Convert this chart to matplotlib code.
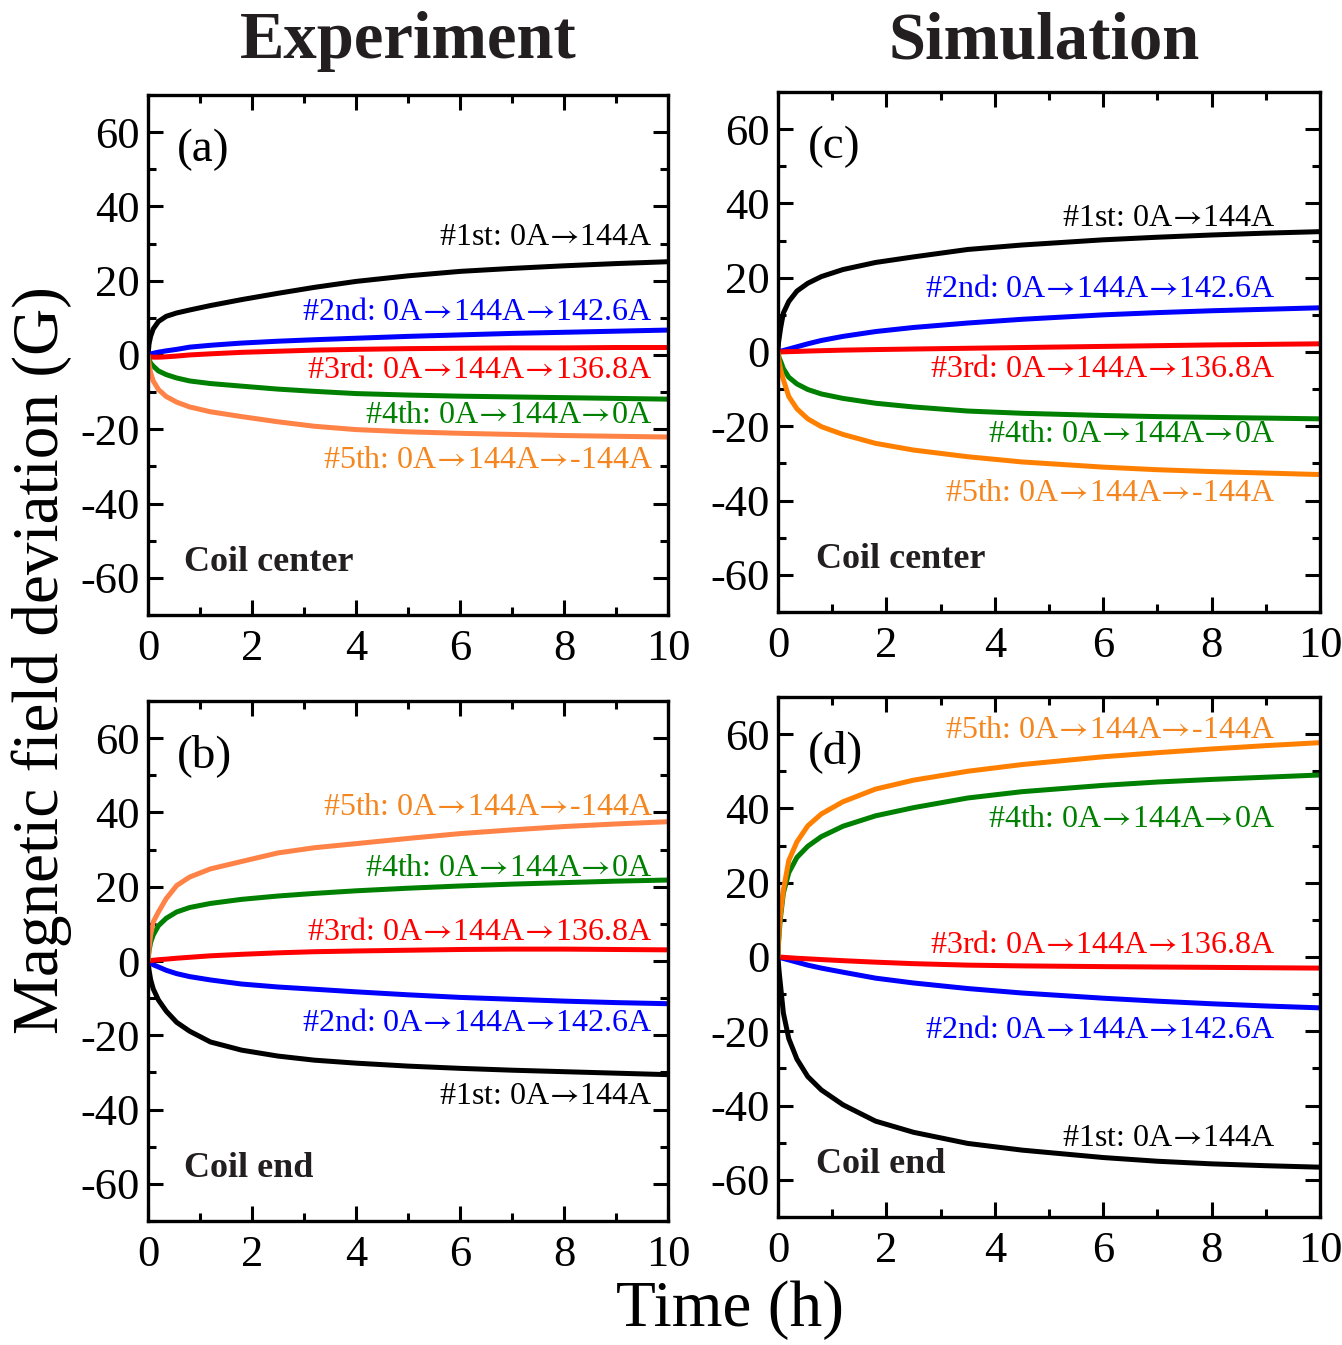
"""Field deviation after current ramps: experiment vs simulation, coil center and end."""

from __future__ import annotations

import matplotlib

matplotlib.use("Agg")
import matplotlib.pyplot as plt
from matplotlib.ticker import MultipleLocator

# ---- data (time in h, deviation in G) ----
ARROW = r"$\!\rightarrow\!$"
RUN_LABELS = [
    f"#1st: 0A{ARROW}144A",
    f"#2nd: 0A{ARROW}144A{ARROW}142.6A",
    f"#3rd: 0A{ARROW}144A{ARROW}136.8A",
    f"#4th: 0A{ARROW}144A{ARROW}0A",
    f"#5th: 0A{ARROW}144A{ARROW}-144A",
]

# experiment time samples (h)
t_exp = [0, 0.02, 0.05, 0.1, 0.2, 0.35, 0.55, 0.8, 1.2, 1.8, 2.5, 3.2, 4, 5, 6, 7, 8, 9, 10]

# (a) experiment, coil center
exp_center_1st = [0, 3.0, 5.0, 7.0, 9.0, 10.4, 11.3, 12.1, 13.3, 14.9, 16.6, 18.2, 19.8, 21.3, 22.5, 23.3, 24.0, 24.6, 25.1]
exp_center_2nd = [0, 0.1, 0.25, 0.45, 0.75, 1.1, 1.5, 2.1, 2.6, 3.2, 3.7, 4.1, 4.5, 5.0, 5.4, 5.8, 6.1, 6.4, 6.7]
exp_center_3rd = [0, -0.3, -0.5, -0.6, -0.6, -0.5, -0.3, 0.0, 0.3, 0.7, 1.0, 1.3, 1.5, 1.7, 1.8, 1.9, 1.9, 2.0, 2.0]
exp_center_4th = [0, -1.2, -2.2, -3.0, -4.3, -5.3, -6.2, -7.0, -7.7, -8.4, -9.2, -9.8, -10.4, -10.8, -11.1, -11.3, -11.5, -11.7, -11.9]
exp_center_5th = [0, -2.5, -4.8, -7.0, -9.3, -11.2, -12.7, -14.0, -15.3, -16.6, -18.0, -19.2, -20.1, -20.7, -21.1, -21.4, -21.7, -21.9, -22.1]

# (b) experiment, coil end
exp_end_1st = [0, -2.5, -5.0, -7.5, -10.5, -13.5, -16.5, -18.9, -21.8, -24.0, -25.6, -26.7, -27.5, -28.3, -28.9, -29.4, -29.8, -30.2, -30.6]
exp_end_2nd = [0, -0.2, -0.5, -1.0, -1.6, -2.5, -3.4, -4.2, -5.1, -6.2, -7.0, -7.6, -8.3, -9.1, -9.8, -10.3, -10.8, -11.2, -11.5]
exp_end_3rd = [0, 0.05, 0.1, 0.2, 0.35, 0.5, 0.75, 1.0, 1.4, 1.8, 2.2, 2.5, 2.7, 2.9, 3.1, 3.2, 3.2, 3.1, 3.0]
exp_end_4th = [0, 2.8, 5.0, 7.0, 9.5, 11.5, 13.2, 14.4, 15.5, 16.6, 17.5, 18.2, 18.9, 19.6, 20.2, 20.7, 21.1, 21.5, 21.8]
exp_end_5th = [0, 3.5, 7.0, 10.5, 13.2, 16.8, 20.3, 22.6, 24.8, 26.8, 29.1, 30.5, 31.6, 33.0, 34.3, 35.3, 36.2, 36.9, 37.5]

# simulation time samples (h)
t_sim = [0, 0.01, 0.025, 0.05, 0.1, 0.2, 0.35, 0.55, 0.8, 1.2, 1.8, 2.5, 3.5, 4.5, 6, 7, 8, 9, 10]

# (c) simulation, coil center
sim_center_1st = [0, 2.5, 4.0, 6.5, 10.5, 13.6, 16.4, 18.5, 20.3, 22.2, 24.1, 25.6, 27.6, 28.8, 30.2, 30.9, 31.5, 32.0, 32.4]
sim_center_2nd = [0, 0.05, 0.1, 0.2, 0.4, 0.8, 1.4, 2.2, 3.1, 4.2, 5.5, 6.6, 7.8, 8.8, 10.0, 10.6, 11.1, 11.5, 11.9]
sim_center_3rd = [0, 0.0, 0.0, 0.02, 0.05, 0.1, 0.15, 0.25, 0.35, 0.5, 0.65, 0.8, 1.0, 1.2, 1.5, 1.7, 1.9, 2.05, 2.2]
sim_center_4th = [0, -0.8, -1.7, -2.5, -4.5, -6.8, -8.6, -10.1, -11.3, -12.5, -13.8, -14.8, -15.9, -16.5, -17.1, -17.4, -17.6, -17.8, -18.0]
sim_center_5th = [0, -1.5, -3.0, -4.8, -7.5, -12.0, -15.3, -18.0, -20.1, -22.2, -24.6, -26.4, -28.2, -29.6, -31.0, -31.7, -32.2, -32.6, -33.0]

# (d) simulation, coil end
sim_end_1st = [0, -2.0, -4.5, -8.0, -15.1, -22.0, -27.5, -32.2, -35.8, -39.8, -44.2, -47.2, -50.2, -52.0, -54.0, -55.0, -55.7, -56.2, -56.6]
sim_end_2nd = [0, -0.05, -0.1, -0.2, -0.4, -0.8, -1.4, -2.2, -3.0, -4.1, -5.7, -7.0, -8.5, -9.7, -11.1, -11.9, -12.6, -13.2, -13.7]
sim_end_3rd = [0, -0.01, -0.03, -0.05, -0.1, -0.2, -0.35, -0.5, -0.7, -1.0, -1.4, -1.8, -2.2, -2.4, -2.6, -2.7, -2.8, -2.9, -3.0]
sim_end_4th = [0, 3.5, 7.0, 11.0, 17.2, 22.7, 26.8, 29.8, 32.4, 35.2, 38.0, 40.2, 42.8, 44.5, 46.2, 47.1, 47.8, 48.4, 49.0]
sim_end_5th = [0, 4.0, 8.0, 12.0, 18.0, 26.0, 31.0, 35.3, 38.5, 41.8, 45.2, 47.6, 50.0, 51.8, 53.9, 55.0, 56.0, 56.9, 57.7]

LINE_COLORS_EXP = ["#000000", "#0000ff", "#ff0000", "#008000", "#ff8247"]
LINE_COLORS_SIM = ["#000000", "#0000ff", "#ff0000", "#008000", "#ff8000"]
TEXT_COLORS = ["#000000", "#0000ff", "#ff0000", "#008000", "#f5861f"]


def style_axes(ax) -> None:
    ax.set_xlim(0, 10)
    ax.set_ylim(-70, 70)
    ax.xaxis.set_major_locator(MultipleLocator(2))
    ax.xaxis.set_minor_locator(MultipleLocator(1))
    ax.yaxis.set_major_locator(MultipleLocator(20))
    ax.yaxis.set_minor_locator(MultipleLocator(10))
    ax.tick_params(which="both", direction="in", top=True, right=True, width=2.2)
    ax.tick_params(which="major", length=11, labelsize=32)
    ax.tick_params(axis="x", which="major", pad=10)
    ax.tick_params(axis="y", which="major", pad=6)
    ax.tick_params(which="minor", length=6)
    for spine in ax.spines.values():
        spine.set_linewidth(2.4)


def draw_panel(ax, t, series, line_colors, tag, place, label_x, label_ys) -> None:
    style_axes(ax)
    for values, color in zip(series, line_colors):
        ax.plot(t, values, color=color, lw=3.6, solid_capstyle="butt", solid_joinstyle="round")
    for text, color, y in zip(RUN_LABELS, TEXT_COLORS, label_ys):
        ax.text(label_x, y, text, color=color, fontsize=23, ha="right", va="center")
    ax.text(0.055, 0.895, tag, transform=ax.transAxes, fontsize=34, va="center", ha="left")
    ax.text(0.07, 0.1, place, transform=ax.transAxes, fontsize=26,
            fontweight="bold", va="center", ha="left", color="#231f20")


def main() -> None:
    plt.rcParams["font.family"] = ["Liberation Serif", "DejaVu Serif"]
    plt.rcParams["mathtext.fontset"] = "stix"
    plt.rcParams["axes.unicode_minus"] = False

    fig = plt.figure(figsize=(13.42, 13.45), dpi=100)
    ax_a = fig.add_axes([0.1103, 0.5428, 0.3875, 0.3866])
    ax_c = fig.add_axes([0.5797, 0.5450, 0.4039, 0.3866])
    ax_b = fig.add_axes([0.1103, 0.0922, 0.3875, 0.3866])
    ax_d = fig.add_axes([0.5797, 0.0952, 0.4039, 0.3866])

    draw_panel(
        ax_a, t_exp,
        [exp_center_1st, exp_center_2nd, exp_center_3rd, exp_center_4th, exp_center_5th],
        LINE_COLORS_EXP, "(a)", "Coil center", 9.7, [31.5, 11.3, -4.3, -16.4, -28.5],
    )
    draw_panel(
        ax_b, t_exp,
        [exp_end_1st, exp_end_2nd, exp_end_3rd, exp_end_4th, exp_end_5th],
        LINE_COLORS_EXP, "(b)", "Coil end", 9.7, [-36.6, -16.7, 7.8, 25.0, 41.4],
    )
    draw_panel(
        ax_c, t_sim,
        [sim_center_1st, sim_center_2nd, sim_center_3rd, sim_center_4th, sim_center_5th],
        LINE_COLORS_SIM, "(c)", "Coil center", 9.17, [36.0, 16.7, -4.6, -22.3, -38.2],
    )
    draw_panel(
        ax_d, t_sim,
        [sim_end_1st, sim_end_2nd, sim_end_3rd, sim_end_4th, sim_end_5th],
        LINE_COLORS_SIM, "(d)", "Coil end", 9.17, [-49.0, -19.7, 3.2, 36.9, 60.9],
    )

    fig.text(408 / 1342, 1 - 42 / 1345, "Experiment", fontsize=48, fontweight="bold",
             ha="center", va="center", color="#231f20")
    fig.text(1044 / 1342, 1 - 42 / 1345, "Simulation", fontsize=48, fontweight="bold",
             ha="center", va="center", color="#231f20")
    fig.text(730 / 1342, 1 - 1310 / 1345, "Time (h)", fontsize=47, ha="center", va="center")
    fig.text(42 / 1342, 1 - 660 / 1345, "Magnetic field deviation (G)", fontsize=47,
             rotation=90, ha="center", va="center")

    fig.savefig("out.png", dpi=100)
    plt.close(fig)


if __name__ == "__main__":
    main()
